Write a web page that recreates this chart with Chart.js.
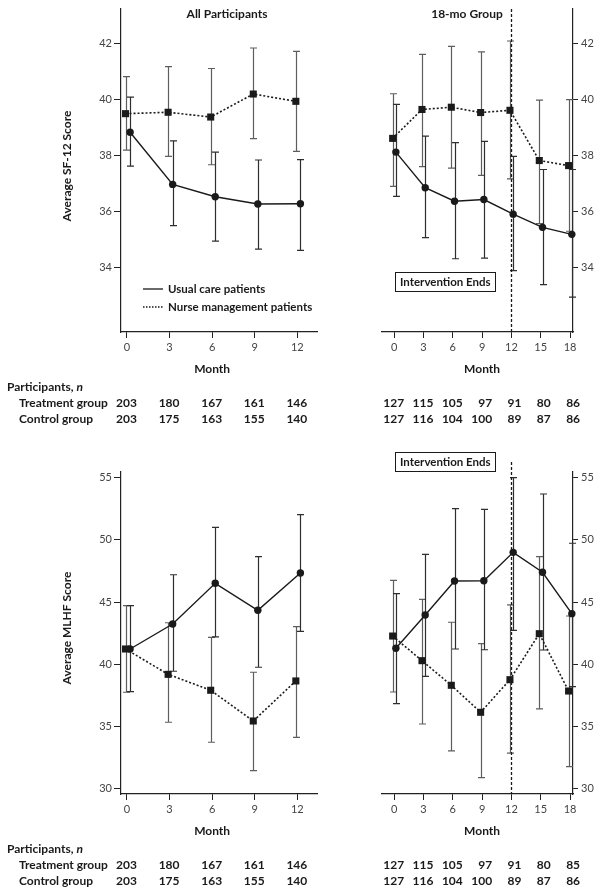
<!DOCTYPE html>
<html>
<head>
<meta charset="utf-8">
<script src="https://cdn.jsdelivr.net/npm/chart.js@4.4.0/dist/chart.umd.min.js"></script>
<style>
  body { margin: 0; background: #fff; width: 605px; height: 892px; position: relative; overflow: hidden; }
  canvas { position: absolute; }
</style>
</head>
<body>
<canvas id="sfAll" width="330" height="440" style="left:0;top:0"></canvas>
<canvas id="sf18" width="275" height="440" style="left:330px;top:0"></canvas>
<canvas id="mlhfAll" width="330" height="452" style="left:0;top:440px"></canvas>
<canvas id="mlhf18" width="275" height="452" style="left:330px;top:440px"></canvas>
<script>
// months and tick labels
const monthsAll = [0, 3, 6, 9, 12];
const months18 = [0, 3, 6, 9, 12, 15, 18];
const sfTicks = [34, 36, 38, 40, 42];
const mlhfTicks = [30, 35, 40, 45, 50, 55];

// SF-12, all participants
const sfAllUsual = [38.83, 36.97, 36.53, 36.27, 36.28];
const sfAllUsualLow = [37.62, 35.5, 34.95, 34.66, 34.62];
const sfAllUsualHigh = [40.08, 38.52, 38.12, 37.84, 37.85];
const sfAllNurse = [39.49, 39.54, 39.37, 40.19, 39.93];
const sfAllNurseLow = [38.19, 37.97, 37.67, 38.6, 38.15];
const sfAllNurseHigh = [40.81, 41.17, 41.1, 41.83, 41.71];

// SF-12, 18-mo group
const sf18Usual = [38.12, 36.85, 36.37, 36.43, 35.91, 35.44, 35.19];
const sf18UsualLow = [36.54, 35.07, 34.32, 34.34, 33.9, 33.4, 32.95];
const sf18UsualHigh = [39.82, 38.69, 38.46, 38.5, 37.97, 37.5, 37.5];
const sf18Nurse = [38.61, 39.64, 39.72, 39.53, 39.61, 37.82, 37.64];
const sf18NurseLow = [36.9, 37.6, 37.55, 37.29, 37.17, 35.57, 35.3];
const sf18NurseHigh = [40.2, 41.6, 41.89, 41.69, 42.08, 39.97, 39.99];

// MLHF, all participants
const mlhfAllUsual = [41.23, 43.24, 46.51, 44.34, 47.34];
const mlhfAllUsualLow = [37.8, 39.44, 42.2, 39.76, 42.65];
const mlhfAllUsualHigh = [44.71, 47.2, 51.0, 48.65, 52.03];
const mlhfAllNurse = [41.23, 39.19, 37.91, 35.44, 38.66];
const mlhfAllNurseLow = [37.75, 35.34, 33.73, 31.45, 34.13];
const mlhfAllNurseHigh = [44.71, 43.34, 42.17, 39.36, 43.02];

// MLHF, 18-mo group
const mlhf18Usual = [41.29, 43.96, 46.7, 46.72, 49.0, 47.4, 44.07];
const mlhf18UsualLow = [36.83, 39.03, 41.23, 41.17, 42.73, 41.15, 38.2];
const mlhf18UsualHigh = [45.68, 48.84, 52.51, 52.46, 55.0, 53.69, 49.73];
const mlhf18Nurse = [42.27, 40.29, 38.31, 36.14, 38.76, 42.46, 37.85];
const mlhf18NurseLow = [37.77, 35.2, 33.03, 30.88, 32.85, 36.41, 31.77];
const mlhf18NurseHigh = [46.75, 45.22, 43.38, 41.66, 44.77, 48.65, 43.88];

// participants, n
const treatAll = [203, 180, 167, 161, 146];
const controlAll = [203, 175, 163, 155, 140];
const treat18Sf = [127, 115, 105, 97, 91, 80, 86];
const treat18Mlhf = [127, 115, 105, 97, 91, 80, 85];
const control18 = [127, 116, 104, 100, 89, 87, 86];

const FONT = 'Lato, "Open Sans", sans-serif';
const INK = '#1a1a1a';

// error bars, intervention line, titles, legend and the n table
const decor = {
  id: 'decor',
  beforeDatasetsDraw(chart, args, o) {
    const { ctx, chartArea: a, scales: { x, y } } = chart;
    chart.data.datasets.forEach(ds => {
      ctx.save();
      ctx.strokeStyle = ds.barColor;
      ctx.lineWidth = 1.2;
      ds.data.forEach((p, i) => {
        const px = Math.round(x.getPixelForValue(p.x)) + 0.5;
        const top = y.getPixelForValue(ds.high[i]);
        const bot = y.getPixelForValue(ds.low[i]);
        ctx.beginPath();
        ctx.moveTo(px, top); ctx.lineTo(px, bot);
        ctx.moveTo(px - 3.5, top); ctx.lineTo(px + 3.5, top);
        ctx.moveTo(px - 3.5, bot); ctx.lineTo(px + 3.5, bot);
        ctx.stroke();
      });
      ctx.restore();
    });
    if (o.endMonth != null) {
      const px = Math.round(x.getPixelForValue(o.endMonth)) + 0.5;
      ctx.save();
      ctx.strokeStyle = INK;
      ctx.lineWidth = 1.3;
      ctx.setLineDash([3, 2]);
      ctx.beginPath();
      ctx.moveTo(px, a.top - o.lineAbove);
      ctx.lineTo(px, a.bottom);
      ctx.stroke();
      ctx.restore();
    }
  },
  afterDraw(chart, args, o) {
    const { ctx, chartArea: a, scales: { x } } = chart;
    ctx.save();
    ctx.fillStyle = INK;
    ctx.textBaseline = 'middle';
    ctx.font = 'bold 12px ' + FONT;
    ctx.textAlign = 'center';
    if (o.title) ctx.fillText(o.title, o.titleX, o.titleY);

    const m = o.months;
    ctx.fillText('Month', x.getPixelForValue((m[0] + m[m.length - 1]) / 2), a.bottom + 37);

    if (o.yTitle) {
      ctx.save();
      ctx.translate(o.yTitleX, o.yTitleY);
      ctx.rotate(-Math.PI / 2);
      ctx.fillText(o.yTitle, 0, 0);
      ctx.restore();
    }

    // n table
    ctx.textAlign = 'right';
    o.rows.forEach((row, r) => {
      row.forEach((n, i) => ctx.fillText(String(n), x.getPixelForValue(m[i]) + 10, a.bottom + 71 + r * 16));
    });
    if (o.rowLabels) {
      ctx.textAlign = 'left';
      ctx.fillText('Participants, ', 7, a.bottom + 55);
      const w = ctx.measureText('Participants, ').width;
      ctx.font = 'italic bold 12px ' + FONT;
      ctx.fillText('n', 7 + w, a.bottom + 55);
      ctx.font = 'bold 12px ' + FONT;
      ctx.fillText('Treatment group', 19, a.bottom + 71);
      ctx.fillText('Control group', 19, a.bottom + 87);
    }

    // intervention box
    if (o.boxY != null) {
      const label = 'Intervention Ends';
      ctx.font = 'bold 11.5px ' + FONT;
      const w = ctx.measureText(label).width + 9;
      const bx = Math.round(a.left + 13) + 0.5;
      const by = Math.round(o.boxY) + 0.5;
      ctx.strokeStyle = INK;
      ctx.lineWidth = 1;
      ctx.strokeRect(bx, by, Math.round(w), 19);
      ctx.textAlign = 'left';
      ctx.fillText(label, bx + 4.5, by + 10);
    }

    // legend
    if (o.legend) {
      ctx.font = 'bold 11.5px ' + FONT;
      ctx.textAlign = 'left';
      ctx.strokeStyle = INK;
      o.legend.forEach((item, k) => {
        const ly = a.bottom - 43 + k * 18;
        ctx.lineWidth = item.dash.length ? 1.5 : 1.3;
        ctx.setLineDash(item.dash);
        ctx.beginPath();
        ctx.moveTo(143, ly); ctx.lineTo(163, ly);
        ctx.stroke();
        ctx.fillText(item.text, 168, ly);
      });
    }
    ctx.restore();
  }
};

function panel(id, o) {
  const pts = (vals, d) => vals.map((v, i) => ({ x: o.months[i] + d, y: v }));
  const axisGrid = (len) => ({ drawOnChartArea: false, drawTicks: true, tickLength: len, color: '#222', lineWidth: 1 });
  return new Chart(document.getElementById(id), {
    type: 'line',
    data: {
      datasets: [
        {
          label: 'Nurse management patients',
          data: pts(o.nurse, o.shift[0]), low: o.nurseLow, high: o.nurseHigh, barColor: '#5e5e5e',
          borderColor: INK, borderWidth: 1.6, borderDash: [2, 2], clip: false,
          pointStyle: 'rect', pointRadius: 5, pointBackgroundColor: INK, pointBorderColor: INK, pointBorderWidth: 0
        },
        {
          label: 'Usual care patients',
          data: pts(o.usual, o.shift[1]), low: o.usualLow, high: o.usualHigh, barColor: '#2e2e2e',
          borderColor: INK, borderWidth: 1.4, clip: false,
          pointStyle: 'circle', pointRadius: 3.7, pointBackgroundColor: INK, pointBorderColor: INK, pointBorderWidth: 0
        }
      ]
    },
    options: {
      responsive: false,
      animation: false,
      layout: { padding: o.pad },
      plugins: { legend: { display: false }, tooltip: { enabled: false }, decor: o.decor },
      scales: {
        x: {
          type: 'linear', min: o.xMin, max: o.xMax,
          afterBuildTicks: s => { s.ticks = o.months.map(v => ({ value: v })); },
          afterFit: s => { s.height = o.axisH; s.paddingLeft = 0; s.paddingRight = 0; },
          grid: axisGrid(6),
          border: { color: '#222', width: 1.2 },
          ticks: { autoSkip: false, maxRotation: 0, padding: 3, color: '#444', font: { family: FONT, size: 11 } }
        },
        y: {
          position: o.side, min: o.yMin, max: o.yMax,
          afterBuildTicks: s => { s.ticks = o.yTicks.map(v => ({ value: v })); },
          afterFit: s => { s.width = o.axisW; s.paddingTop = 0; s.paddingBottom = 0; },
          grid: axisGrid(o.side === 'left' ? 7 : 5),
          border: { color: '#222', width: 1.2 },
          ticks: { padding: o.side === 'left' ? 2 : 3, color: '#444', font: { family: FONT, size: 11 } }
        }
      }
    },
    plugins: [decor]
  });
}

const legendItems = [
  { text: 'Usual care patients', dash: [] },
  { text: 'Nurse management patients', dash: [1.5, 1.5] }
];

panel('sfAll', {
  months: monthsAll, shift: [-0.1, 0.22], side: 'left',
  usual: sfAllUsual, usualLow: sfAllUsualLow, usualHigh: sfAllUsualHigh,
  nurse: sfAllNurse, nurseLow: sfAllNurseLow, nurseHigh: sfAllNurseHigh,
  xMin: -0.42, xMax: 13.39, yMin: 31.71, yMax: 43.22, yTicks: sfTicks,
  pad: { left: 0, right: 13, top: 9, bottom: 0 }, axisW: 121, axisH: 108,
  decor: {
    months: monthsAll, title: 'All Participants', titleX: 227, titleY: 14,
    yTitle: 'Average SF-12 Score', yTitleX: 67, yTitleY: 166,
    rows: [treatAll, controlAll], rowLabels: true, legend: legendItems
  }
});

panel('sf18', {
  months: months18, shift: [-0.15, 0.18], side: 'right',
  usual: sf18Usual, usualLow: sf18UsualLow, usualHigh: sf18UsualHigh,
  nurse: sf18Nurse, nurseLow: sf18NurseLow, nurseHigh: sf18NurseHigh,
  xMin: -1.24, xMax: 18.3, yMin: 31.71, yMax: 43.22, yTicks: sfTicks,
  pad: { left: 52, right: 0, top: 9, bottom: 0 }, axisW: 32, axisH: 108,
  decor: {
    months: months18, title: '18-mo Group', titleX: 137, titleY: 14,
    rows: [treat18Sf, control18], endMonth: 12, lineAbove: 0, boxY: 272
  }
});

panel('mlhfAll', {
  months: monthsAll, shift: [-0.1, 0.22], side: 'left',
  usual: mlhfAllUsual, usualLow: mlhfAllUsualLow, usualHigh: mlhfAllUsualHigh,
  nurse: mlhfAllNurse, nurseLow: mlhfAllNurseLow, nurseHigh: mlhfAllNurseHigh,
  xMin: -0.42, xMax: 13.39, yMin: 29.57, yMax: 55.46, yTicks: mlhfTicks,
  pad: { left: 0, right: 13, top: 32, bottom: 0 }, axisW: 121, axisH: 98,
  decor: {
    months: monthsAll, yTitle: 'Average MLHF Score', yTitleX: 67, yTitleY: 188,
    rows: [treatAll, controlAll], rowLabels: true
  }
});

panel('mlhf18', {
  months: months18, shift: [-0.15, 0.18], side: 'right',
  usual: mlhf18Usual, usualLow: mlhf18UsualLow, usualHigh: mlhf18UsualHigh,
  nurse: mlhf18Nurse, nurseLow: mlhf18NurseLow, nurseHigh: mlhf18NurseHigh,
  xMin: -1.24, xMax: 18.3, yMin: 29.57, yMax: 55.46, yTicks: mlhfTicks,
  pad: { left: 52, right: 0, top: 32, bottom: 0 }, axisW: 32, axisH: 98,
  decor: {
    months: months18, rows: [treat18Mlhf, control18], endMonth: 12, lineAbove: 10, boxY: 12
  }
});
</script>
</body>
</html>
